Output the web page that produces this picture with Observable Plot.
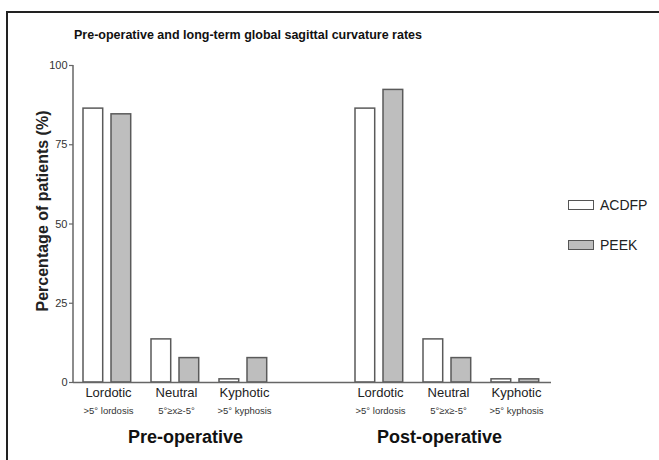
<!DOCTYPE html>
<html>
<head>
<meta charset="utf-8">
<script src="https://cdn.jsdelivr.net/npm/d3@7"></script>
<script src="https://cdn.jsdelivr.net/npm/@observablehq/plot@0.6"></script>
<style>
  body { margin: 0; background: #fff; font-family: "Liberation Sans", Arial, sans-serif; }
  #wrap { position: relative; width: 659px; height: 460px; overflow: hidden; background: #fff; }
  #frame { position: absolute; left: 6px; top: 11px; width: 720px; height: 520px; border-top: 2px solid #222; border-left: 2px solid #222; }
  #title { position: absolute; left: 0; top: 28px; width: 496px; text-align: center; font-weight: bold; font-size: 12.5px; color: #111; line-height: 14px; }
  #chart { position: absolute; left: 0; top: 0; }
  .lg-box { position: absolute; width: 24px; height: 8px; border: 1.5px solid #555; }
  .lg-txt { position: absolute; font-size: 14px; color: #222; line-height: 16px; }
</style>
</head>
<body>
<div id="wrap">
  <div id="frame"></div>
  <div id="chart"></div>
  <div id="title"></div>
  <div id="legend"></div>
</div>
<script>
// ---- data ----
const phases = ["Pre-operative", "Post-operative"];
const phaseKeys = ["Pre", "Post"];
const categories = ["Lordotic", "Neutral", "Kyphotic"];
const subLabels = [">5\u00B0 lordosis", "5\u00B0\u2265x\u2265-5\u00B0", ">5\u00B0 kyphosis"];
const series = ["ACDFP", "PEEK"];
const acdfpPre = [86.4, 13.6, 1];
const peekPre = [84.6, 7.7, 7.7];
const acdfpPost = [86.4, 13.6, 1];
const peekPost = [92.3, 7.7, 1];
const yTicks = [0, 25, 50, 75, 100];
const titleText = "Pre-operative and long-term global sagittal curvature rates";
const yLabel = "Percentage of patients (%)";

// ---- build table ----
const values = {Pre: [acdfpPre, peekPre], Post: [acdfpPost, peekPost]};
const rows = [];
phaseKeys.forEach((p, pi) => {
  categories.forEach((c, ci) => {
    rows.push({slot: p + "-" + c, phase: phases[pi], cat: c, sub: subLabels[ci],
               acdfp: values[p][0][ci], peek: values[p][1][ci]});
  });
});
const slots = [...categories.map(c => "Pre-" + c), "gap", ...categories.map(c => "Post-" + c)];

document.getElementById("title").textContent = titleText;

const yAxisLine = (index, scales, vals, dims) => {
  const g = d3.create("svg:line")
    .attr("x1", dims.marginLeft).attr("x2", dims.marginLeft)
    .attr("y1", scales.y(0)).attr("y2", scales.y(100))
    .attr("stroke", "#666").attr("stroke-width", 1.5);
  return g.node();
};

const chart = Plot.plot({
  width: 659,
  height: 460,
  marginLeft: 73,
  marginRight: 108,
  marginTop: 65,
  marginBottom: 78,
  style: {fontFamily: "'Liberation Sans', Arial, sans-serif", color: "#222", background: "transparent"},
  x: {type: "band", domain: slots, padding: 0, axis: null},
  y: {domain: [0, 100]},
  marks: [
    Plot.barY(rows, {x: "slot", y: "acdfp", fill: "#ffffff", stroke: "#5a5a5a", strokeWidth: 1.5, insetLeft: 9, insetRight: 39.3}),
    Plot.barY(rows, {x: "slot", y: "peek", fill: "#bebebe", stroke: "#5a5a5a", strokeWidth: 1.5, insetLeft: 37, insetRight: 11.3}),
    Plot.ruleY([0], {stroke: "#666", strokeWidth: 1.5}),
    yAxisLine,
    Plot.axisY({ticks: yTicks, tickSize: 4, tickPadding: 2, fontSize: 11, label: null, stroke: "#666", strokeWidth: 1.2, fill: "#333"}),
    Plot.text(rows, {x: "slot", text: "cat", frameAnchor: "bottom", dy: 14, fontSize: 13, fill: "#222"}),
    Plot.text(rows, {x: "slot", text: "sub", frameAnchor: "bottom", dy: 31, fontSize: 9.5, fill: "#333"}),
    Plot.text(rows.filter(d => d.phase === phases[0] && d.cat === "Neutral"), {x: "slot", text: "phase", frameAnchor: "bottom", dy: 60, dx: 9, fontSize: 18, fontWeight: "bold", fill: "#111"}),
    Plot.text(rows.filter(d => d.phase === phases[1] && d.cat === "Neutral"), {x: "slot", text: "phase", frameAnchor: "bottom", dy: 60, dx: -9, fontSize: 18, fontWeight: "bold", fill: "#111"}),
    Plot.text([yLabel], {text: d => d, frameAnchor: "left", textAnchor: "middle", lineAnchor: "middle", rotate: -90, dx: -31, dy: -13, fontSize: 16, fontWeight: "bold", fill: "#222"})
  ]
});
document.getElementById("chart").appendChild(chart);

// ---- legend ----
const legend = document.getElementById("legend");
const legendFills = ["#ffffff", "#bebebe"];
series.forEach((s, i) => {
  const top = 200 + i * 40;
  const box = document.createElement("div");
  box.className = "lg-box";
  box.style.left = "568px";
  box.style.top = top + "px";
  box.style.background = legendFills[i];
  legend.appendChild(box);
  const t = document.createElement("div");
  t.className = "lg-txt";
  t.style.left = "600px";
  t.style.top = (top - 3) + "px";
  t.textContent = s;
  legend.appendChild(t);
});
</script>
</body>
</html>
